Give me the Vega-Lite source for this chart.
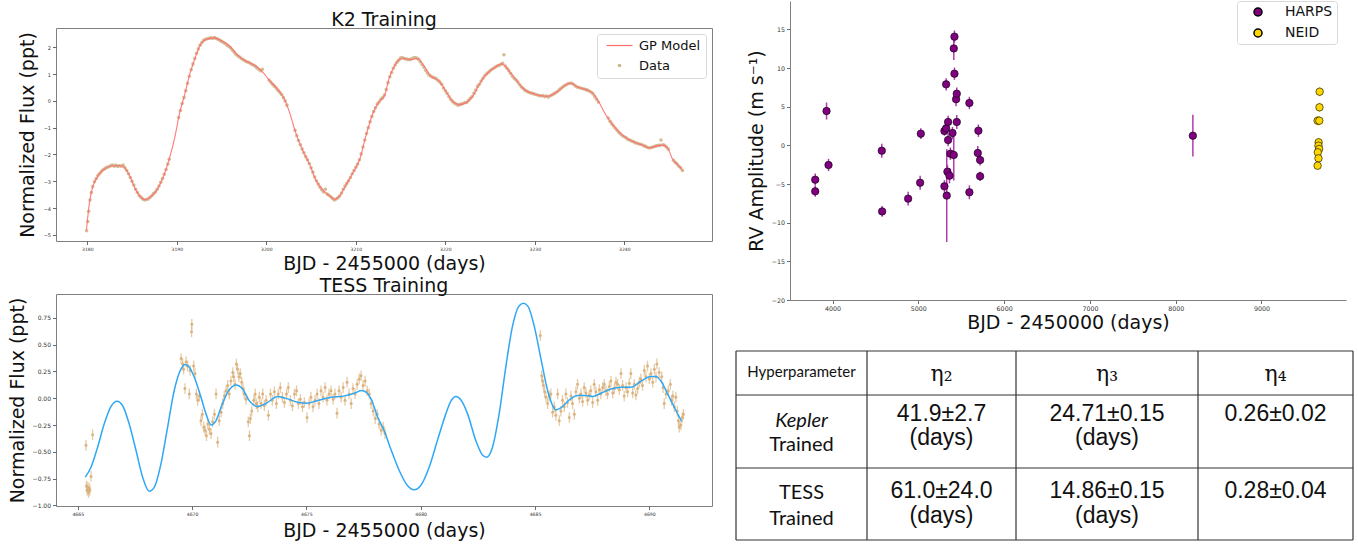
{
"$schema": "https://vega.github.io/schema/vega-lite/v6.json",
"padding": {"left": 7, "top": 0, "right": 0, "bottom": 0},
"background": "white",
"config": {
  "font": "DejaVu Sans",
  "view": {"stroke": "#808080", "strokeWidth": 1},
  "axis": {"grid": false, "domain": false, "ticks": true, "tickSize": 3.5, "tickColor": "#444", "tickWidth": 0.8, "labelColor": "#333", "labelFont": "DejaVu Sans", "labelPadding": 2, "labelOverlap": false, "labelFlush": false, "titleFont": "DejaVu Sans", "titleFontSize": 19, "titleFontWeight": "normal", "titleColor": "#111"},
  "title": {"font": "DejaVu Sans", "fontSize": 19, "fontWeight": "normal", "color": "#111", "anchor": "middle", "offset": -2, "baseline": "alphabetic"}
},
"datasets": {
"k2gp": [
{"t":3179.9,"f":-4.83},{"t":3180.26,"f":-3.74},{"t":3180.63,"f":-3.18},{"t":3181.19,"f":-2.8},{"t":3181.75,"f":-2.59},{"t":3182.68,"f":-2.43},{"t":3183.61,"f":-2.41},{"t":3184.17,"f":-2.49},{"t":3184.73,"f":-2.8},{"t":3185.47,"f":-3.36},{"t":3186.03,"f":-3.61},{"t":3186.41,"f":-3.69},{"t":3186.96,"f":-3.61},{"t":3187.71,"f":-3.36},{"t":3188.45,"f":-2.87},{"t":3189.2,"f":-2.12},{"t":3189.76,"f":-1.38},{"t":3190.32,"f":-0.45},{"t":3190.88,"f":0.24},{"t":3191.43,"f":0.98},{"t":3191.99,"f":1.54},{"t":3192.55,"f":2.04},{"t":3193.3,"f":2.29},{"t":3194.23,"f":2.35},{"t":3194.97,"f":2.25},{"t":3195.9,"f":2.04},{"t":3196.83,"f":1.7},{"t":3197.77,"f":1.48},{"t":3198.7,"f":1.33},{"t":3199.44,"f":1.13},{"t":3200.37,"f":0.76},{"t":3201.3,"f":0.42},{"t":3202.05,"f":0.05},{"t":3202.61,"f":-0.45},{"t":3203.35,"f":-1.25},{"t":3204.1,"f":-1.87},{"t":3204.84,"f":-2.37},{"t":3205.59,"f":-2.99},{"t":3206.33,"f":-3.34},{"t":3207.08,"f":-3.55},{"t":3207.64,"f":-3.67},{"t":3208.19,"f":-3.55},{"t":3208.94,"f":-3.11},{"t":3209.68,"f":-2.68},{"t":3210.43,"f":-2.19},{"t":3211.17,"f":-1.25},{"t":3211.92,"f":-0.45},{"t":3212.66,"f":-0.01},{"t":3213.18,"f":0.17},{"t":3213.74,"f":0.86},{"t":3214.3,"f":1.29},{"t":3214.86,"f":1.54},{"t":3215.41,"f":1.58},{"t":3216.16,"f":1.54},{"t":3216.9,"f":1.58},{"t":3217.65,"f":1.29},{"t":3218.39,"f":0.92},{"t":3219.33,"f":0.73},{"t":3220.07,"f":0.36},{"t":3220.81,"f":-0.01},{"t":3221.56,"f":-0.14},{"t":3222.3,"f":-0.07},{"t":3223.05,"f":0.17},{"t":3223.79,"f":0.61},{"t":3224.54,"f":0.98},{"t":3225.47,"f":1.23},{"t":3226.22,"f":1.38},{"t":3226.59,"f":1.33},{"t":3227.15,"f":1.11},{"t":3227.89,"f":0.8},{"t":3228.64,"f":0.49},{"t":3229.57,"f":0.3},{"t":3230.5,"f":0.2},{"t":3231.43,"f":0.17},{"t":3232.36,"f":0.3},{"t":3233.29,"f":0.55},{"t":3234.04,"f":0.67},{"t":3234.78,"f":0.52},{"t":3235.71,"f":0.42},{"t":3236.46,"f":0.3},{"t":3237.2,"f":-0.07},{"t":3237.95,"f":-0.53},{"t":3238.69,"f":-0.88},{"t":3239.62,"f":-1.23},{"t":3240.74,"f":-1.48},{"t":3241.86,"f":-1.63},{"t":3242.79,"f":-1.75},{"t":3243.53,"f":-1.69},{"t":3244.28,"f":-1.65},{"t":3244.84,"f":-1.75},{"t":3245.4,"f":-2.18},{"t":3245.95,"f":-2.37},{"t":3246.51,"f":-2.59}
],
"k2d": [
{"t":3179.92,"f":-4.85},{"t":3180.05,"f":-4.5},{"t":3180.15,"f":-4.12},{"t":3180.3,"f":-3.7},{"t":3180.45,"f":-3.42},{"t":3180.6,"f":-3.2},{"t":3180.8,"f":-3.02},{"t":3181.0,"f":-2.9},{"t":3181.2,"f":-2.78},{"t":3181.4,"f":-2.7},{"t":3181.6,"f":-2.62},{"t":3181.8,"f":-2.56},{"t":3182.0,"f":-2.52},{"t":3182.2,"f":-2.48},{"t":3182.4,"f":-2.46},{"t":3182.6,"f":-2.42},{"t":3182.8,"f":-2.4},{"t":3183.0,"f":-2.44},{"t":3183.2,"f":-2.4},{"t":3183.4,"f":-2.45},{"t":3183.6,"f":-2.42},{"t":3183.8,"f":-2.44},{"t":3184.0,"f":-2.4},{"t":3184.2,"f":-2.5},{"t":3184.4,"f":-2.6},{"t":3184.6,"f":-2.72},{"t":3184.8,"f":-2.86},{"t":3185.0,"f":-3.0},{"t":3185.2,"f":-3.14},{"t":3185.4,"f":-3.3},{"t":3185.6,"f":-3.42},{"t":3185.8,"f":-3.53},{"t":3186.0,"f":-3.6},{"t":3186.2,"f":-3.66},{"t":3186.4,"f":-3.7},{"t":3186.6,"f":-3.68},{"t":3186.8,"f":-3.66},{"t":3187.0,"f":-3.6},{"t":3187.2,"f":-3.54},{"t":3187.4,"f":-3.46},{"t":3187.6,"f":-3.4},{"t":3187.8,"f":-3.3},{"t":3188.0,"f":-3.18},{"t":3188.2,"f":-3.04},{"t":3188.4,"f":-2.9},{"t":3188.6,"f":-2.74},{"t":3188.8,"f":-2.56},{"t":3189.0,"f":-2.36},{"t":3189.15,"f":-2.18},
{"t":3190.2,"f":-0.62},{"t":3190.4,"f":-0.36},{"t":3190.6,"f":-0.1},{"t":3190.8,"f":0.12},{"t":3191.0,"f":0.38},{"t":3191.2,"f":0.66},{"t":3191.4,"f":0.92},{"t":3191.6,"f":1.16},{"t":3191.8,"f":1.38},{"t":3192.0,"f":1.58},{"t":3192.2,"f":1.78},{"t":3192.4,"f":1.94},{"t":3192.6,"f":2.08},{"t":3192.8,"f":2.18},{"t":3193.0,"f":2.26},{"t":3193.2,"f":2.3},{"t":3193.4,"f":2.32},{"t":3193.6,"f":2.34},{"t":3193.8,"f":2.35},{"t":3194.0,"f":2.34},{"t":3194.2,"f":2.36},{"t":3194.4,"f":2.33},{"t":3194.6,"f":2.3},{"t":3194.8,"f":2.26},{"t":3195.0,"f":2.22},{"t":3195.2,"f":2.18},{"t":3195.4,"f":2.14},{"t":3195.6,"f":2.08},{"t":3195.8,"f":2.04},{"t":3196.0,"f":1.98},{"t":3196.2,"f":1.9},{"t":3196.4,"f":1.82},{"t":3196.6,"f":1.74},{"t":3196.8,"f":1.68},{"t":3197.0,"f":1.64},{"t":3197.2,"f":1.58},{"t":3197.4,"f":1.54},{"t":3197.6,"f":1.5},{"t":3197.8,"f":1.46},{"t":3198.0,"f":1.44},{"t":3198.2,"f":1.4},{"t":3198.4,"f":1.36},{"t":3198.6,"f":1.33},{"t":3198.8,"f":1.28},{"t":3199.0,"f":1.22},{"t":3199.2,"f":1.16},{"t":3199.4,"f":1.12},{"t":3199.55,"f":1.18},
{"t":3200.3,"f":0.78},{"t":3200.5,"f":0.7},{"t":3200.7,"f":0.62},{"t":3200.9,"f":0.55},{"t":3201.1,"f":0.48},{"t":3201.3,"f":0.4},{"t":3201.5,"f":0.32},{"t":3201.7,"f":0.24},{"t":3201.9,"f":0.12},{"t":3202.1,"f":0.0},{"t":3202.3,"f":-0.16},
{"t":3203.2,"f":-1.1},{"t":3203.4,"f":-1.3},{"t":3203.6,"f":-1.48},{"t":3203.8,"f":-1.64},{"t":3204.0,"f":-1.8},{"t":3204.2,"f":-1.94},{"t":3204.4,"f":-2.08},{"t":3204.6,"f":-2.2},{"t":3204.8,"f":-2.34},{"t":3205.0,"f":-2.5},{"t":3205.2,"f":-2.66},{"t":3205.4,"f":-2.84},{"t":3205.6,"f":-2.98},{"t":3205.8,"f":-3.1},{"t":3206.0,"f":-3.22},{"t":3206.2,"f":-3.32},{"t":3206.4,"f":-3.4},{"t":3206.6,"f":-3.3},{"t":3206.8,"f":-3.48},{"t":3207.0,"f":-3.52},{"t":3207.2,"f":-3.58},{"t":3207.4,"f":-3.64},{"t":3207.6,"f":-3.7},{"t":3207.8,"f":-3.66},{"t":3208.0,"f":-3.62},{"t":3208.2,"f":-3.55},{"t":3208.4,"f":-3.44},{"t":3208.6,"f":-3.3},{"t":3208.8,"f":-3.18},{"t":3209.0,"f":-3.08},{"t":3209.2,"f":-2.98},{"t":3209.4,"f":-2.86},{"t":3209.6,"f":-2.72},{"t":3209.8,"f":-2.6},{"t":3210.0,"f":-2.48},{"t":3210.2,"f":-2.36},{"t":3210.4,"f":-2.2},{"t":3210.6,"f":-1.98},{"t":3210.8,"f":-1.72},{"t":3211.0,"f":-1.46},{"t":3211.2,"f":-1.22},{"t":3211.4,"f":-1.0},{"t":3211.6,"f":-0.78},{"t":3211.8,"f":-0.58},{"t":3212.0,"f":-0.4},{"t":3212.2,"f":-0.26},{"t":3212.4,"f":-0.12},{"t":3212.6,"f":-0.04},{"t":3212.8,"f":0.06},{"t":3213.0,"f":0.12},{"t":3213.2,"f":0.22},{"t":3213.4,"f":0.42},{"t":3213.6,"f":0.68},{"t":3213.8,"f":0.9},{"t":3214.0,"f":1.06},{"t":3214.2,"f":1.22},{"t":3214.4,"f":1.34},{"t":3214.6,"f":1.44},{"t":3214.8,"f":1.52},{"t":3215.0,"f":1.6},{"t":3215.2,"f":1.62},{"t":3215.4,"f":1.58},{"t":3215.6,"f":1.56},{"t":3215.8,"f":1.55},{"t":3216.0,"f":1.54},{"t":3216.2,"f":1.56},{"t":3216.4,"f":1.6},{"t":3216.6,"f":1.62},{"t":3216.8,"f":1.6},{"t":3217.0,"f":1.55},{"t":3217.2,"f":1.46},{"t":3217.4,"f":1.36},{"t":3217.6,"f":1.26},{"t":3217.8,"f":1.14},{"t":3218.0,"f":1.04},{"t":3218.2,"f":0.96},{"t":3218.4,"f":0.92},{"t":3218.6,"f":0.88},{"t":3218.8,"f":0.86},{"t":3219.0,"f":0.82},{"t":3219.2,"f":0.76},{"t":3219.4,"f":0.7},{"t":3219.6,"f":0.62},{"t":3219.8,"f":0.48},{"t":3220.0,"f":0.38},{"t":3220.2,"f":0.28},{"t":3220.4,"f":0.16},{"t":3220.6,"f":0.06},{"t":3220.8,"f":-0.02},{"t":3221.0,"f":-0.08},{"t":3221.2,"f":-0.12},{"t":3221.4,"f":-0.16},{"t":3221.6,"f":-0.14},{"t":3221.8,"f":-0.12},{"t":3222.0,"f":-0.1},{"t":3222.2,"f":-0.06},{"t":3222.4,"f":-0.06},{"t":3222.6,"f":0.02},{"t":3222.8,"f":0.1},{"t":3223.0,"f":0.16},{"t":3223.2,"f":0.28},{"t":3223.4,"f":0.4},{"t":3223.6,"f":0.54},{"t":3223.8,"f":0.62},{"t":3224.0,"f":0.74},{"t":3224.2,"f":0.84},{"t":3224.4,"f":0.94},{"t":3224.6,"f":1.0},{"t":3224.8,"f":1.06},{"t":3225.0,"f":1.12},{"t":3225.2,"f":1.18},{"t":3225.4,"f":1.22},{"t":3225.6,"f":1.26},{"t":3225.8,"f":1.3},{"t":3226.0,"f":1.32},{"t":3226.2,"f":1.36},{"t":3226.4,"f":1.4},{"t":3226.55,"f":1.72},{"t":3226.7,"f":1.3},{"t":3226.9,"f":1.22},{"t":3227.1,"f":1.12},{"t":3227.3,"f":1.02},{"t":3227.5,"f":0.92},{"t":3227.7,"f":0.84},{"t":3227.9,"f":0.78},{"t":3228.1,"f":0.7},{"t":3228.3,"f":0.6},{"t":3228.5,"f":0.52},{"t":3228.7,"f":0.46},{"t":3228.9,"f":0.4},{"t":3229.1,"f":0.36},{"t":3229.3,"f":0.32},{"t":3229.5,"f":0.3},{"t":3229.7,"f":0.28},{"t":3229.9,"f":0.26},{"t":3230.1,"f":0.24},{"t":3230.3,"f":0.22},{"t":3230.5,"f":0.2},{"t":3230.7,"f":0.18},{"t":3230.9,"f":0.2},{"t":3231.1,"f":0.16},{"t":3231.3,"f":0.18},{"t":3231.5,"f":0.14},{"t":3231.7,"f":0.18},{"t":3231.9,"f":0.22},{"t":3232.1,"f":0.26},{"t":3232.3,"f":0.3},{"t":3232.5,"f":0.34},{"t":3232.7,"f":0.4},{"t":3232.9,"f":0.46},{"t":3233.1,"f":0.52},{"t":3233.3,"f":0.56},{"t":3233.5,"f":0.6},{"t":3233.7,"f":0.64},{"t":3233.9,"f":0.66},{"t":3234.1,"f":0.66},{"t":3234.3,"f":0.62},{"t":3234.5,"f":0.56},{"t":3234.7,"f":0.52},{"t":3234.9,"f":0.5},{"t":3235.1,"f":0.48},{"t":3235.3,"f":0.46},{"t":3235.5,"f":0.44},{"t":3235.7,"f":0.42},{"t":3235.9,"f":0.4},{"t":3236.1,"f":0.36},{"t":3236.3,"f":0.32},{"t":3236.5,"f":0.26},{"t":3236.7,"f":0.16},{"t":3236.9,"f":0.06},{"t":3237.1,"f":-0.04},
{"t":3238.2,"f":-0.64},{"t":3238.4,"f":-0.76},{"t":3238.6,"f":-0.86},{"t":3238.8,"f":-0.94},{"t":3239.0,"f":-1.02},{"t":3239.2,"f":-1.1},{"t":3239.4,"f":-1.18},{"t":3239.6,"f":-1.24},{"t":3239.8,"f":-1.3},{"t":3240.0,"f":-1.34},{"t":3240.2,"f":-1.38},{"t":3240.4,"f":-1.44},{"t":3240.6,"f":-1.46},{"t":3240.8,"f":-1.5},{"t":3241.0,"f":-1.52},{"t":3241.2,"f":-1.56},{"t":3241.4,"f":-1.58},{"t":3241.6,"f":-1.6},{"t":3241.8,"f":-1.62},{"t":3242.0,"f":-1.64},{"t":3242.2,"f":-1.68},{"t":3242.4,"f":-1.7},{"t":3242.6,"f":-1.74},{"t":3242.8,"f":-1.76},{"t":3243.0,"f":-1.74},{"t":3243.2,"f":-1.72},{"t":3243.4,"f":-1.7},{"t":3243.6,"f":-1.68},{"t":3243.8,"f":-1.66},{"t":3244.0,"f":-1.66},{"t":3244.1,"f":-1.46},{"t":3244.3,"f":-1.64},{"t":3244.5,"f":-1.66},{"t":3244.7,"f":-1.72},{"t":3244.9,"f":-1.8},
{"t":3245.5,"f":-2.22},{"t":3245.7,"f":-2.3},{"t":3245.9,"f":-2.36},{"t":3246.1,"f":-2.44},{"t":3246.3,"f":-2.5},{"t":3246.5,"f":-2.6}
],
"tgp": [
{"t":4665.33,"f":-0.737},{"t":4665.58,"f":-0.644},{"t":4665.87,"f":-0.457},{"t":4666.16,"f":-0.239},{"t":4666.45,"f":-0.078},{"t":4666.72,"f":-0.028},{"t":4666.96,"f":-0.068},{"t":4667.25,"f":-0.239},{"t":4667.55,"f":-0.488},{"t":4667.84,"f":-0.737},{"t":4668.13,"f":-0.868},{"t":4668.35,"f":-0.83},{"t":4668.64,"f":-0.613},{"t":4668.93,"f":-0.271},{"t":4669.22,"f":0.072},{"t":4669.52,"f":0.274},{"t":4669.69,"f":0.314},{"t":4669.88,"f":0.289},{"t":4670.1,"f":0.196},{"t":4670.39,"f":0.009},{"t":4670.61,"f":-0.146},{"t":4670.83,"f":-0.249},{"t":4671.05,"f":-0.208},{"t":4671.27,"f":-0.084},{"t":4671.56,"f":0.056},{"t":4671.92,"f":0.124},{"t":4672.21,"f":0.087},{"t":4672.5,"f":-0.022},{"t":4672.87,"f":-0.078},{"t":4673.24,"f":-0.047},{"t":4673.75,"f":0.016},{"t":4674.18,"f":-0.006},{"t":4674.62,"f":-0.037},{"t":4674.99,"f":-0.047},{"t":4675.5,"f":-0.022},{"t":4676.08,"f":0.009},{"t":4676.67,"f":0.022},{"t":4677.18,"f":0.053},{"t":4677.4,"f":0.072},{"t":4677.61,"f":0.056},{"t":4677.83,"f":-0.006},{"t":4678.12,"f":-0.177},{"t":4678.4,"f":-0.302},{"t":4678.69,"f":-0.473},{"t":4679.06,"f":-0.675},{"t":4679.42,"f":-0.815},{"t":4679.71,"f":-0.855},{"t":4680.0,"f":-0.815},{"t":4680.37,"f":-0.644},{"t":4680.73,"f":-0.395},{"t":4681.1,"f":-0.146},{"t":4681.32,"f":-0.028},{"t":4681.54,"f":0.016},{"t":4681.76,"f":-0.016},{"t":4682.05,"f":-0.146},{"t":4682.41,"f":-0.395},{"t":4682.7,"f":-0.529},{"t":4682.89,"f":-0.55},{"t":4683.14,"f":-0.457},{"t":4683.43,"f":-0.146},{"t":4683.72,"f":0.289},{"t":4684.02,"f":0.678},{"t":4684.31,"f":0.864},{"t":4684.5,"f":0.886},{"t":4684.7,"f":0.855},{"t":4684.96,"f":0.678},{"t":4685.26,"f":0.367},{"t":4685.55,"f":0.072},{"t":4685.77,"f":-0.068},{"t":4685.91,"f":-0.109},{"t":4686.13,"f":-0.09},{"t":4686.5,"f":-0.016},{"t":4686.86,"f":0.025},{"t":4687.23,"f":0.025},{"t":4687.52,"f":0.016},{"t":4687.88,"f":0.047},{"t":4688.32,"f":0.087},{"t":4688.76,"f":0.103},{"t":4689.19,"f":0.103},{"t":4689.63,"f":0.159},{"t":4690.07,"f":0.202},{"t":4690.29,"f":0.202},{"t":4690.51,"f":0.159},{"t":4690.8,"f":0.04},{"t":4691.09,"f":-0.084},{"t":4691.41,"f":-0.215}
],
"td": [
{"t":4665.36,"f":-0.44,"e":0.05},{"t":4665.38,"f":-0.82,"e":0.05},{"t":4665.41,"f":-0.86,"e":0.05},{"t":4665.44,"f":-0.83,"e":0.05},{"t":4665.47,"f":-0.88,"e":0.05},{"t":4665.5,"f":-0.84,"e":0.05},{"t":4665.53,"f":-0.86,"e":0.05},{"t":4665.58,"f":-0.73,"e":0.05},{"t":4665.65,"f":-0.34,"e":0.05},
{"t":4669.52,"f":0.37,"e":0.05},{"t":4669.59,"f":0.32,"e":0.05},{"t":4669.63,"f":0.27,"e":0.05},{"t":4669.69,"f":0.09,"e":0.05},{"t":4669.74,"f":0.34,"e":0.05},{"t":4669.81,"f":0.3,"e":0.05},{"t":4669.88,"f":0.04,"e":0.05},{"t":4669.92,"f":0.26,"e":0.05},{"t":4669.99,"f":0.69,"e":0.05},{"t":4669.98,"f":0.62,"e":0.05},{"t":4670.07,"f":0.3,"e":0.05},{"t":4670.13,"f":0.23,"e":0.05},{"t":4670.19,"f":0.04,"e":0.05},{"t":4670.25,"f":-0.02,"e":0.05},{"t":4670.32,"f":0.02,"e":0.05},{"t":4670.39,"f":-0.21,"e":0.05},{"t":4670.45,"f":-0.15,"e":0.05},{"t":4670.51,"f":-0.27,"e":0.05},{"t":4670.57,"f":-0.3,"e":0.05},{"t":4670.63,"f":-0.35,"e":0.05},{"t":4670.69,"f":-0.24,"e":0.05},{"t":4670.76,"f":-0.29,"e":0.05},{"t":4670.83,"f":-0.33,"e":0.05},{"t":4670.9,"f":-0.22,"e":0.05},{"t":4670.98,"f":-0.15,"e":0.05},{"t":4671.05,"f":0.04,"e":0.05},{"t":4671.12,"f":-0.41,"e":0.05},{"t":4671.19,"f":-0.21,"e":0.05},{"t":4671.27,"f":-0.13,"e":0.05},{"t":4671.34,"f":-0.05,"e":0.05},{"t":4671.41,"f":0.02,"e":0.05},{"t":4671.49,"f":0.07,"e":0.05},{"t":4671.56,"f":0.12,"e":0.05},{"t":4671.63,"f":0.04,"e":0.05},{"t":4671.7,"f":0.16,"e":0.05},{"t":4671.78,"f":0.24,"e":0.05},{"t":4671.82,"f":0.2,"e":0.05},{"t":4671.88,"f":0.13,"e":0.05},{"t":4671.94,"f":0.32,"e":0.05},{"t":4671.99,"f":0.27,"e":0.05},{"t":4672.05,"f":0.2,"e":0.05},{"t":4672.11,"f":0.23,"e":0.05},{"t":4672.17,"f":0.15,"e":0.05},{"t":4672.23,"f":0.09,"e":0.05},{"t":4672.28,"f":0.04,"e":0.05},{"t":4672.36,"f":-0.01,"e":0.05},{"t":4672.46,"f":-0.22,"e":0.05},{"t":4672.51,"f":-0.35,"e":0.05},{"t":4672.55,"f":-0.19,"e":0.05},{"t":4672.61,"f":-0.12,"e":0.05},{"t":4672.7,"f":-0.02,"e":0.05},{"t":4672.76,"f":0.04,"e":0.05},{"t":4672.81,"f":-0.05,"e":0.05},{"t":4672.87,"f":-0.08,"e":0.05},{"t":4672.94,"f":0.01,"e":0.05},{"t":4673.02,"f":-0.05,"e":0.05},{"t":4673.09,"f":0.04,"e":0.05},{"t":4673.16,"f":-0.07,"e":0.05},{"t":4673.24,"f":-0.02,"e":0.05},{"t":4673.34,"f":-0.16,"e":0.05},{"t":4673.43,"f":0.04,"e":0.05},{"t":4673.51,"f":-0.02,"e":0.05},{"t":4673.6,"f":0.06,"e":0.05},{"t":4673.69,"f":-0.05,"e":0.05},{"t":4673.77,"f":0.04,"e":0.05},{"t":4673.86,"f":0.1,"e":0.05},{"t":4673.95,"f":0.01,"e":0.05},{"t":4674.04,"f":-0.04,"e":0.05},{"t":4674.13,"f":0.04,"e":0.05},{"t":4674.21,"f":0.1,"e":0.05},{"t":4674.3,"f":-0.02,"e":0.05},{"t":4674.39,"f":-0.07,"e":0.05},{"t":4674.48,"f":0.04,"e":0.05},{"t":4674.57,"f":0.07,"e":0.05},{"t":4674.65,"f":-0.05,"e":0.05},{"t":4674.74,"f":-0.01,"e":0.05},{"t":4674.83,"f":-0.08,"e":0.05},{"t":4674.91,"f":-0.04,"e":0.05},{"t":4675.03,"f":-0.18,"e":0.05},{"t":4675.12,"f":-0.05,"e":0.05},{"t":4675.2,"f":0.01,"e":0.05},{"t":4675.29,"f":-0.08,"e":0.05},{"t":4675.38,"f":-0.02,"e":0.05},{"t":4675.47,"f":0.04,"e":0.05},{"t":4675.55,"f":-0.05,"e":0.05},{"t":4675.64,"f":0.07,"e":0.05},{"t":4675.73,"f":0.01,"e":0.05},{"t":4675.82,"f":0.1,"e":0.05},{"t":4675.9,"f":-0.02,"e":0.05},{"t":4675.99,"f":0.04,"e":0.05},{"t":4676.08,"f":0.07,"e":0.05},{"t":4676.17,"f":-0.01,"e":0.05},{"t":4676.25,"f":0.04,"e":0.05},{"t":4676.34,"f":-0.14,"e":0.05},{"t":4676.43,"f":0.07,"e":0.05},{"t":4676.52,"f":0.01,"e":0.05},{"t":4676.61,"f":0.1,"e":0.05},{"t":4676.69,"f":-0.02,"e":0.05},{"t":4676.78,"f":0.15,"e":0.05},{"t":4676.87,"f":0.04,"e":0.05},{"t":4676.96,"f":-0.05,"e":0.05},{"t":4677.04,"f":0.09,"e":0.05},{"t":4677.13,"f":0.04,"e":0.05},{"t":4677.22,"f":0.13,"e":0.05},{"t":4677.31,"f":0.18,"e":0.05},{"t":4677.39,"f":0.21,"e":0.05},{"t":4677.48,"f":0.12,"e":0.05},{"t":4677.57,"f":0.16,"e":0.05},{"t":4677.66,"f":0.07,"e":0.05},{"t":4677.75,"f":0.04,"e":0.05},{"t":4677.83,"f":-0.05,"e":0.05},{"t":4677.92,"f":-0.12,"e":0.05},{"t":4678.01,"f":-0.19,"e":0.05},{"t":4678.1,"f":-0.15,"e":0.05},{"t":4678.18,"f":-0.24,"e":0.05},{"t":4678.27,"f":-0.3,"e":0.05},{"t":4678.36,"f":-0.27,"e":0.05},{"t":4678.44,"f":-0.33,"e":0.05},
{"t":4685.23,"f":0.585,"e":0.05},{"t":4685.29,"f":0.21,"e":0.05},{"t":4685.33,"f":0.16,"e":0.05},{"t":4685.37,"f":0.12,"e":0.05},{"t":4685.42,"f":0.06,"e":0.05},{"t":4685.48,"f":0.01,"e":0.05},{"t":4685.55,"f":-0.05,"e":0.05},{"t":4685.62,"f":0.02,"e":0.05},{"t":4685.69,"f":0.04,"e":0.05},{"t":4685.77,"f":-0.13,"e":0.05},{"t":4685.84,"f":-0.08,"e":0.05},{"t":4685.91,"f":-0.16,"e":0.05},{"t":4685.99,"f":0.04,"e":0.05},{"t":4686.06,"f":-0.21,"e":0.05},{"t":4686.13,"f":-0.12,"e":0.05},{"t":4686.2,"f":-0.02,"e":0.05},{"t":4686.28,"f":-0.08,"e":0.05},{"t":4686.35,"f":0.04,"e":0.05},{"t":4686.42,"f":-0.04,"e":0.05},{"t":4686.5,"f":-0.18,"e":0.05},{"t":4686.57,"f":0.02,"e":0.05},{"t":4686.64,"f":-0.05,"e":0.05},{"t":4686.72,"f":-0.15,"e":0.05},{"t":4686.79,"f":0.06,"e":0.05},{"t":4686.86,"f":0.13,"e":0.05},{"t":4686.94,"f":0.0,"e":0.05},{"t":4687.01,"f":0.04,"e":0.05},{"t":4687.08,"f":-0.03,"e":0.05},{"t":4687.15,"f":0.1,"e":0.05},{"t":4687.23,"f":0.05,"e":0.05},{"t":4687.3,"f":-0.02,"e":0.05},{"t":4687.37,"f":0.03,"e":0.05},{"t":4687.44,"f":0.07,"e":0.05},{"t":4687.52,"f":-0.04,"e":0.05},{"t":4687.59,"f":0.13,"e":0.05},{"t":4687.66,"f":0.06,"e":0.05},{"t":4687.74,"f":-0.02,"e":0.05},{"t":4687.81,"f":0.08,"e":0.05},{"t":4687.88,"f":0.04,"e":0.05},{"t":4687.96,"f":0.1,"e":0.05},{"t":4688.03,"f":0.13,"e":0.05},{"t":4688.1,"f":0.07,"e":0.05},{"t":4688.17,"f":0.04,"e":0.05},{"t":4688.25,"f":0.11,"e":0.05},{"t":4688.32,"f":0.16,"e":0.05},{"t":4688.4,"f":0.05,"e":0.05},{"t":4688.47,"f":0.09,"e":0.05},{"t":4688.54,"f":0.15,"e":0.05},{"t":4688.61,"f":0.13,"e":0.05},{"t":4688.69,"f":0.08,"e":0.05},{"t":4688.76,"f":0.23,"e":0.05},{"t":4688.83,"f":0.12,"e":0.05},{"t":4688.9,"f":0.02,"e":0.05},{"t":4688.98,"f":0.1,"e":0.05},{"t":4689.05,"f":0.06,"e":0.05},{"t":4689.12,"f":0.14,"e":0.05},{"t":4689.19,"f":0.23,"e":0.05},{"t":4689.27,"f":0.05,"e":0.05},{"t":4689.34,"f":0.13,"e":0.05},{"t":4689.41,"f":0.03,"e":0.05},{"t":4689.49,"f":0.09,"e":0.05},{"t":4689.56,"f":0.15,"e":0.05},{"t":4689.63,"f":0.18,"e":0.05},{"t":4689.7,"f":0.12,"e":0.05},{"t":4689.78,"f":0.26,"e":0.05},{"t":4689.85,"f":0.2,"e":0.05},{"t":4689.92,"f":0.3,"e":0.05},{"t":4690.0,"f":0.18,"e":0.05},{"t":4690.07,"f":0.23,"e":0.05},{"t":4690.15,"f":0.15,"e":0.05},{"t":4690.22,"f":0.27,"e":0.05},{"t":4690.29,"f":0.2,"e":0.05},{"t":4690.33,"f":0.32,"e":0.05},{"t":4690.43,"f":0.24,"e":0.05},{"t":4690.54,"f":0.2,"e":0.05},{"t":4690.6,"f":0.1,"e":0.05},{"t":4690.65,"f":-0.05,"e":0.05},{"t":4690.73,"f":0.04,"e":0.05},{"t":4690.83,"f":0.07,"e":0.05},{"t":4690.92,"f":0.13,"e":0.05},{"t":4690.97,"f":-0.02,"e":0.05},{"t":4691.03,"f":0.02,"e":0.05},{"t":4691.09,"f":-0.08,"e":0.05},{"t":4691.16,"f":0.01,"e":0.05},{"t":4691.22,"f":-0.12,"e":0.05},{"t":4691.27,"f":-0.21,"e":0.05},{"t":4691.31,"f":-0.27,"e":0.05},{"t":4691.38,"f":-0.25,"e":0.05},{"t":4691.44,"f":-0.18,"e":0.05},{"t":4691.49,"f":-0.15,"e":0.05}
],
"rv": [
{"t":3798,"v":-4.44,"e":0.8,"inst":"HARPS"},{"t":3798,"v":-5.95,"e":0.7,"inst":"HARPS"},{"t":3930,"v":4.44,"e":1.1,"inst":"HARPS"},{"t":3953,"v":-2.54,"e":0.8,"inst":"HARPS"},{"t":4574,"v":-0.69,"e":0.9,"inst":"HARPS"},{"t":4578,"v":-8.54,"e":0.7,"inst":"HARPS"},{"t":4881,"v":-6.89,"e":0.9,"inst":"HARPS"},{"t":5021,"v":-4.83,"e":0.9,"inst":"HARPS"},{"t":5029,"v":1.51,"e":0.7,"inst":"HARPS"},{"t":5304,"v":-5.3,"e":0.8,"inst":"HARPS"},{"t":5304,"v":1.86,"e":0.6,"inst":"HARPS"},{"t":5324,"v":2.2,"e":0.7,"inst":"HARPS"},{"t":5324,"v":7.89,"e":0.8,"inst":"HARPS"},{"t":5331,"v":-6.5,"e":6.0,"inst":"HARPS"},{"t":5339,"v":-3.4,"e":0.9,"inst":"HARPS"},{"t":5347,"v":3.02,"e":0.8,"inst":"HARPS"},{"t":5347,"v":0.69,"e":0.8,"inst":"HARPS"},{"t":5363,"v":-3.92,"e":1.0,"inst":"HARPS"},{"t":5374,"v":-1.08,"e":0.8,"inst":"HARPS"},{"t":5398,"v":1.6,"e":0.8,"inst":"HARPS"},{"t":5413,"v":-1.24,"e":3.3,"inst":"HARPS"},{"t":5413,"v":12.54,"e":1.5,"inst":"HARPS"},{"t":5421,"v":14.06,"e":0.8,"inst":"HARPS"},{"t":5421,"v":9.27,"e":0.8,"inst":"HARPS"},{"t":5440,"v":5.97,"e":0.9,"inst":"HARPS"},{"t":5448,"v":6.68,"e":0.8,"inst":"HARPS"},{"t":5448,"v":3.02,"e":0.9,"inst":"HARPS"},{"t":5595,"v":5.48,"e":0.8,"inst":"HARPS"},{"t":5595,"v":-6.07,"e":0.9,"inst":"HARPS"},{"t":5693,"v":-0.99,"e":0.9,"inst":"HARPS"},{"t":5700,"v":1.9,"e":0.8,"inst":"HARPS"},{"t":5720,"v":-1.9,"e":0.7,"inst":"HARPS"},{"t":5720,"v":-4.0,"e":0.6,"inst":"HARPS"},{"t":8200,"v":1.25,"e":2.7,"inst":"HARPS"},
{"t":9678,"v":6.94,"e":0.6,"inst":"NEID"},{"t":9676,"v":4.92,"e":0.6,"inst":"NEID"},{"t":9654,"v":3.19,"e":0.6,"inst":"NEID"},{"t":9674,"v":3.19,"e":0.6,"inst":"NEID"},{"t":9666,"v":0.39,"e":0.6,"inst":"NEID"},{"t":9664,"v":-0.04,"e":0.6,"inst":"NEID"},{"t":9672,"v":-0.47,"e":0.5,"inst":"NEID"},{"t":9656,"v":-0.9,"e":0.5,"inst":"NEID"},{"t":9664,"v":-1.68,"e":0.5,"inst":"NEID"},{"t":9654,"v":-2.63,"e":0.5,"inst":"NEID"}
],
"tlines": [
{"c":0,"c2":4,"r":0,"r2":0},{"c":0,"c2":4,"r":1,"r2":1},{"c":0,"c2":4,"r":2,"r2":2},{"c":0,"c2":4,"r":3,"r2":3},
{"c":0,"c2":0,"r":0,"r2":3},{"c":1,"c2":1,"r":0,"r2":3},{"c":2,"c2":2,"r":0,"r2":3},{"c":3,"c2":3,"r":0,"r2":3},{"c":4,"c2":4,"r":0,"r2":3}
],
"ttext": [
{"c":0.5,"r":0.48,"s":"Hyperparameter","k":"hdr"},
{"c":1.5,"r":0.52,"s":"η₂","k":"eta"},{"c":2.5,"r":0.52,"s":"η₃","k":"eta"},{"c":3.5,"r":0.52,"s":"η₄","k":"eta"},
{"c":0.5,"r":1.36,"s":"Kepler","k":"ital"},{"c":0.5,"r":1.69,"s":"Trained","k":"lab"},
{"c":0.5,"r":2.35,"s":"TESS","k":"lab"},{"c":0.5,"r":2.71,"s":"Trained","k":"lab"},
{"c":1.5,"r":1.26,"s":"41.9±2.7","k":"val"},{"c":1.5,"r":1.59,"s":"(days)","k":"val"},
{"c":2.5,"r":1.26,"s":"24.71±0.15","k":"val"},{"c":2.5,"r":1.59,"s":"(days)","k":"val"},
{"c":3.5,"r":1.26,"s":"0.26±0.02","k":"val"},
{"c":1.5,"r":2.32,"s":"61.0±24.0","k":"val"},{"c":1.5,"r":2.67,"s":"(days)","k":"val"},
{"c":2.5,"r":2.32,"s":"14.86±0.15","k":"val"},{"c":2.5,"r":2.67,"s":"(days)","k":"val"},
{"c":3.5,"r":2.32,"s":"0.28±0.04","k":"val"}
]
},
"spacing": 22,
"resolve": {"scale": {"color": "independent", "shape": "independent"}, "legend": {"color": "independent", "shape": "independent"}},
"hconcat": [
{
 "spacing": 2,
 "resolve": {"scale": {"color": "independent", "shape": "independent"}, "legend": {"color": "independent", "shape": "independent"}},
 "vconcat": [
  {"width": 10, "height": 7, "data": {"values": []}, "mark": "point", "encoding": {}, "view": {"stroke": null}},
  {
   "width": 656, "height": 213,
   "title": {"text": "K2 Training"},
   "encoding": {
     "x": {"field": "t", "type": "quantitative", "scale": {"domain": [3176.5, 3249.8], "nice": false, "zero": false}, "axis": {"values": [3180,3190,3200,3210,3220,3230,3240], "format": "d", "labelFontSize": 4.5, "title": "BJD - 2455000 (days)", "titlePadding": 3}},
     "y": {"field": "f", "type": "quantitative", "scale": {"domain": [-5.23, 2.72], "nice": false, "zero": false}, "axis": {"values": [-5,-4,-3,-2,-1,0,1,2], "format": "d", "labelFontSize": 5, "title": "Normalized Flux (ppt)", "titlePadding": 6}}
   },
   "layer": [
    {"data": {"name": "k2d"}, "mark": {"type": "point", "filled": true, "size": 13, "opacity": 0.9},
     "encoding": {
       "color": {"datum": "Data", "scale": {"domain": ["GP Model", "Data"], "range": ["#ff7070", "#d2b48c"]},
         "legend": {"orient": "none", "legendX": 541, "legendY": 6, "title": null, "padding": 5, "strokeColor": "#d9d9d9", "fillColor": "white", "cornerRadius": 3, "labelFontSize": 13, "labelFont": "DejaVu Sans", "labelColor": "#111", "symbolSize": 13, "symbolOpacity": 1, "rowPadding": 6, "labelOffset": 13, "symbolOffset": 11}},
       "shape": {"datum": "Data", "scale": {"domain": ["GP Model", "Data"], "range": ["M-7.2,-0.35H7.2V0.35H-7.2Z", "circle"]},
         "legend": {"orient": "none", "legendX": 541, "legendY": 6, "title": null, "padding": 5, "strokeColor": "#d9d9d9", "fillColor": "white", "cornerRadius": 3, "labelFontSize": 13, "labelFont": "DejaVu Sans", "labelColor": "#111", "symbolSize": 13, "symbolOpacity": 1, "rowPadding": 6, "labelOffset": 13, "symbolOffset": 11}}
     }},
    {"data": {"name": "k2gp"}, "mark": {"type": "line", "strokeWidth": 1.1, "interpolate": "monotone", "opacity": 0.9, "color": "#ff6b6b"}}
   ]
  },
  {
   "width": 656, "height": 212,
   "title": {"text": "TESS Training"},
   "encoding": {
     "x": {"field": "t", "type": "quantitative", "scale": {"domain": [4664.05, 4692.74], "nice": false, "zero": false}, "axis": {"values": [4665,4670,4675,4680,4685,4690], "format": "d", "labelFontSize": 4.6, "title": "BJD - 2455000 (days)", "titlePadding": 5}},
     "y": {"field": "f", "type": "quantitative", "scale": {"domain": [-1.006, 0.973], "nice": false, "zero": false}, "axis": {"values": [-1,-0.75,-0.5,-0.25,0,0.25,0.5,0.75], "format": ".2f", "labelFontSize": 6, "title": "Normalized Flux (ppt)", "titlePadding": 5}}
   },
   "layer": [
    {"data": {"name": "td"}, "mark": {"type": "errorbar", "color": "#deb887", "thickness": 1.3, "opacity": 0.75}, "encoding": {"yError": {"field": "e"}}},
    {"data": {"name": "td"}, "mark": {"type": "point", "filled": true, "size": 9, "color": "#d9ae78", "opacity": 0.9}},
    {"data": {"name": "tgp"}, "mark": {"type": "line", "strokeWidth": 1.5, "interpolate": "monotone", "color": "#2ea8f5"}}
   ]
  }
 ]
},
{
 "spacing": 17,
 "resolve": {"scale": {"color": "independent"}, "legend": {"color": "independent"}},
 "vconcat": [
  {
   "width": 556, "height": 299,
   "view": {"stroke": null},
   "encoding": {
     "x": {"field": "t", "type": "quantitative", "scale": {"domain": [3504, 9985], "nice": false, "zero": false}, "axis": {"values": [4000,5000,6000,7000,8000,9000], "format": "d", "labelFontSize": 6.3, "title": "BJD - 2450000 (days)", "titlePadding": 2, "domain": true, "domainColor": "#808080", "domainWidth": 1}},
     "y": {"field": "v", "type": "quantitative", "scale": {"domain": [-20, 18.67], "nice": false, "zero": false}, "axis": {"values": [-20,-15,-10,-5,0,5,10,15], "format": "d", "labelFontSize": 6.3, "title": "RV Amplitude (m s⁻¹)", "titlePadding": 5, "domain": true, "domainColor": "#808080", "domainWidth": 1}}
   },
   "layer": [
    {"data": {"name": "rv"}, "transform": [{"filter": "datum.inst === 'HARPS'"}], "mark": {"type": "errorbar", "color": "#b03cb0", "thickness": 1.5}, "encoding": {"yError": {"field": "e"}}},
    {"data": {"name": "rv"}, "transform": [{"filter": "datum.inst === 'NEID'"}], "mark": {"type": "errorbar", "color": "#ffd700", "thickness": 1.5}, "encoding": {"yError": {"field": "e"}}},
    {"data": {"name": "rv"}, "mark": {"type": "point", "filled": true, "size": 56, "stroke": "black", "strokeWidth": 0.6, "opacity": 1},
     "encoding": {"color": {"field": "inst", "type": "nominal", "scale": {"domain": ["HARPS", "NEID"], "range": ["#800080", "#ffd700"]},
       "legend": {"orient": "none", "legendX": 447, "legendY": 0, "title": null, "padding": 4, "strokeColor": "#d9d9d9", "fillColor": "white", "cornerRadius": 3, "labelFontSize": 14, "labelFont": "DejaVu Sans", "labelColor": "#111", "symbolSize": 64, "symbolType": "circle", "rowPadding": 7, "labelOffset": 20, "symbolOffset": 10,
         "encode": {"symbols": {"stroke": {"value": "black"}, "strokeWidth": {"value": 0.7}, "opacity": {"value": 1}}}}}}},
    {"data": {"values": [{}]}, "mark": {"type": "rule", "color": "#808080", "strokeWidth": 1}, "encoding": {"x": {"datum": 9985, "type": "quantitative"}, "y": {"datum": -20, "type": "quantitative"}, "y2": {"datum": 18.67}}}
   ]
  },
  {
   "width": 563, "height": 189,
   "view": {"stroke": null},
   "encoding": {
     "x": {"field": "c", "type": "quantitative", "scale": {"domain": [0,1,2,3,4], "range": [-54,77,226,408,563], "nice": false, "zero": false}, "axis": null},
     "y": {"field": "r", "type": "quantitative", "scale": {"domain": [0,1,2,3], "range": [0,44,117,189], "nice": false, "zero": false}, "axis": null}
   },
   "layer": [
    {"data": {"name": "tlines"}, "mark": {"type": "rule", "color": "#333", "strokeWidth": 1.2}, "encoding": {"x2": {"field": "c2"}, "y2": {"field": "r2"}}},
    {"data": {"name": "ttext"}, "transform": [{"filter": "datum.k === 'hdr'"}], "mark": {"type": "text", "font": "Lato", "fontSize": 15, "color": "#111", "align": "center", "baseline": "middle"}, "encoding": {"text": {"field": "s"}}},
    {"data": {"name": "ttext"}, "transform": [{"filter": "datum.k === 'eta'"}], "mark": {"type": "text", "font": "DejaVu Serif", "fontSize": 22, "color": "#111", "align": "center", "baseline": "middle"}, "encoding": {"text": {"field": "s"}}},
    {"data": {"name": "ttext"}, "transform": [{"filter": "datum.k === 'lab'"}], "mark": {"type": "text", "font": "Lato", "fontSize": 20, "color": "#111", "align": "center", "baseline": "middle"}, "encoding": {"text": {"field": "s"}}},
    {"data": {"name": "ttext"}, "transform": [{"filter": "datum.k === 'ital'"}], "mark": {"type": "text", "font": "Lato", "fontSize": 20, "fontStyle": "italic", "color": "#111", "align": "center", "baseline": "middle"}, "encoding": {"text": {"field": "s"}}},
    {"data": {"name": "ttext"}, "transform": [{"filter": "datum.k === 'val'"}], "mark": {"type": "text", "font": "Liberation Sans", "fontSize": 23, "color": "#111", "align": "center", "baseline": "middle"}, "encoding": {"text": {"field": "s"}}}
   ]
  }
 ]
}
]
}
